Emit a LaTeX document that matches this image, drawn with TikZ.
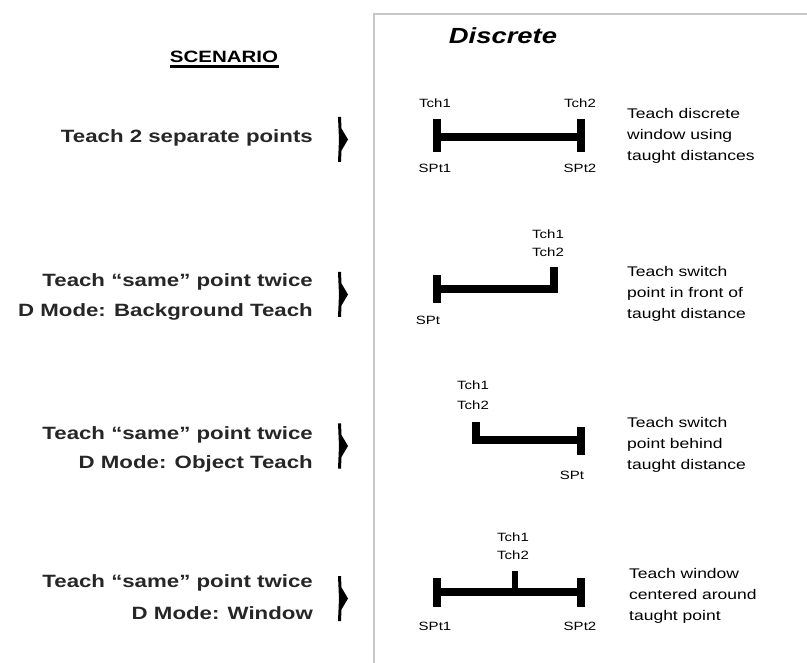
\documentclass[tikz,border=0pt]{standalone}
\usepackage{fontspec}
\setmainfont{Liberation Sans}[FakeStretch=1.25]
\begin{document}
\begin{tikzpicture}[x=1pt,y=-1pt,
  lab/.style={font=\fontsize{17.8}{20}\selectfont\bfseries, text=black!85, inner sep=0, anchor=east},
  desc/.style={font=\fontsize{14}{21}\selectfont, align=left, anchor=west, inner sep=0},
  tinylab/.style={font=\fontsize{12}{14}\selectfont, inner sep=0},
  bar/.style={line width=7.5pt, line cap=butt, line join=miter},
  panel/.style={draw=black!22, line width=2pt},
  scenmarker/.pic={\fill (-5,-22.5) -- (-2,-22.5) -- (-1.5,-11) -- (5,0) -- (-1.5,11) -- (-2,22.5) -- (-5,22.5) -- (-4,0) -- cycle;}]
\useasboundingbox (0,0) rectangle (807,663);
% panel
\coordinate (pbl) at (374,663);
\coordinate (ptl) at (374,14);
\coordinate (ptr) at (807,14);
\draw[panel] (pbl) -- (ptl) -- (ptr);
\node[font=\fontsize{21.9}{24}\selectfont\bfseries\itshape, inner sep=0] (disc) at (503,36) {Discrete};
% scenario header
\node[font=\fontsize{16.4}{18}\selectfont\bfseries, inner sep=0] (scen) at (224,57) {SCENARIO};
\coordinate (ulA) at (170,66.5);
\coordinate (ulB) at (279,66.5);
\draw[line width=2.5pt] (ulA) -- (ulB);
% left labels
\node[lab] (s1) at (313,138) {Teach 2 separate points};
\node[lab] (s2a) at (313,282) {Teach “same” point twice};
\node[lab] (s2b) at (313,312) {D Mode: Background Teach};
\node[lab] (s3a) at (313,435) {Teach “same” point twice};
\node[lab] (s3b) at (313,464) {D Mode: Object Teach};
\node[lab] (s4a) at (313,583) {Teach “same” point twice};
\node[lab] (s4b) at (313,613) {D Mode: Window};
% markers
\pic at (343,139.5) {scenmarker};
\pic at (343,294.5) {scenmarker};
\pic at (343,446) {scenmarker};
\pic at (343,598.5) {scenmarker};
% diagram 1
\coordinate (a1t) at (437,119); \coordinate (a1b) at (437,152);
\coordinate (b1t) at (581,119); \coordinate (b1b) at (581,152);
\coordinate (a1m) at (437,137); \coordinate (b1m) at (581,137);
\draw[bar] (a1t) -- (a1b);
\draw[bar] (b1t) -- (b1b);
\draw[bar] (a1m) -- (b1m);
\node[tinylab] (t11) at (435,103) {Tch1};
\node[tinylab] (t12) at (580,103) {Tch2};
\node[tinylab] (p11) at (435,168) {SPt1};
\node[tinylab] (p12) at (580,168) {SPt2};
\node[desc] (d1) at (627,136) {Teach discrete\\window using\\taught distances};
% diagram 2
\coordinate (a2t) at (437,275); \coordinate (a2b) at (437,303);
\coordinate (a2m) at (437,289); \coordinate (c2m) at (554,289); \coordinate (c2t) at (554,267);
\draw[bar] (a2t) -- (a2b);
\draw[bar] (a2m) -- (c2m) -- (c2t);
\node[tinylab] (t21) at (548,234) {Tch1};
\node[tinylab] (t22) at (548,252) {Tch2};
\node[tinylab] (p21) at (428,320) {SPt};
\node[desc] (d2) at (627,294) {Teach switch\\point in front of\\taught distance};
% diagram 3
\coordinate (c3t) at (476,422); \coordinate (c3m) at (476,440);
\coordinate (b3m) at (581,440);
\coordinate (b3t) at (581,427); \coordinate (b3b) at (581,455);
\draw[bar] (c3t) -- (c3m) -- (b3m);
\draw[bar] (b3t) -- (b3b);
\node[tinylab] (t31) at (473,385) {Tch1};
\node[tinylab] (t32) at (473,405) {Tch2};
\node[tinylab] (p31) at (572,475) {SPt};
\node[desc] (d3) at (627,445) {Teach switch\\point behind\\taught distance};
% diagram 4
\coordinate (a4t) at (437,578); \coordinate (a4b) at (437,607);
\coordinate (b4t) at (581,578); \coordinate (b4b) at (581,607);
\coordinate (a4m) at (437,592); \coordinate (b4m) at (581,592);
\coordinate (m4t) at (515,571); \coordinate (m4b) at (515,592);
\draw[bar] (a4t) -- (a4b);
\draw[bar] (b4t) -- (b4b);
\draw[bar] (a4m) -- (b4m);
\draw[bar, line width=6pt] (m4t) -- (m4b);
\node[tinylab] (t41) at (513,537) {Tch1};
\node[tinylab] (t42) at (513,555) {Tch2};
\node[tinylab] (p41) at (435,626) {SPt1};
\node[tinylab] (p42) at (580,626) {SPt2};
\node[desc] (d4) at (629,596) {Teach window\\centered around\\taught point};
\end{tikzpicture}
\end{document}
